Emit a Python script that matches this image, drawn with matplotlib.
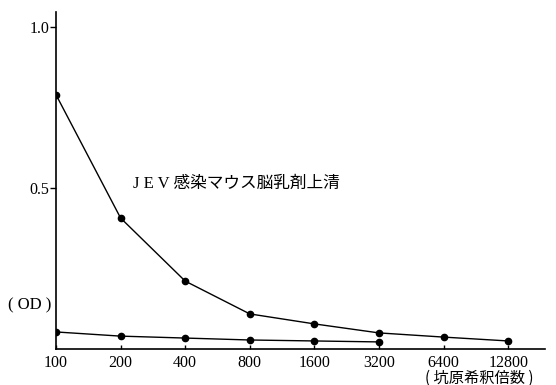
import numpy as np
import matplotlib.pyplot as plt

plt.rcParams['font.family'] = ['Liberation Serif', 'Noto Sans CJK JP']

dilution = [100, 200, 400, 800, 1600, 3200, 6400, 12800]
jev_od = [0.79, 0.407, 0.211, 0.109, 0.078, 0.050, 0.037, 0.025]
ctrl_dilution = [100, 200, 400, 800, 1600, 3200]
ctrl_od = [0.053, 0.040, 0.034, 0.028, 0.025, 0.022]

fig = plt.figure(figsize=(5.56, 3.85), dpi=100)
ax = fig.add_axes([0.1007, 0.0935, 0.8795, 0.8753])

ax.plot(dilution, jev_od, color='black', lw=1.0, marker='o', ms=4.5,
        mfc='black', mec='black')
ax.plot(ctrl_dilution, ctrl_od, color='black', lw=1.0, marker='o', ms=4.5,
        mfc='black', mec='black')

ax.set_xscale('log', base=2)
ax.set_xlim(100, 100 * 2 ** 7.57)
ax.set_ylim(0, 1.047)
ax.set_xticks(dilution)
ax.set_xticklabels([str(d) for d in dilution])
ax.minorticks_off()
ax.set_yticks([0.5, 1.0])
ax.set_yticklabels(['0.5', '1.0'])

for side in ['top', 'right']:
    ax.spines[side].set_visible(False)
for side in ['left', 'bottom']:
    ax.spines[side].set_linewidth(1.2)

ax.tick_params(axis='y', direction='out', length=4, width=1, labelsize=11.5, pad=1)
ax.tick_params(axis='x', direction='in', length=3, width=1, labelsize=11.5, pad=4)

fig.text(133 / 556, 1 - 184 / 385, 'J E V 感染マウス脳乳剤上清', fontsize=12,
         family=['Liberation Serif', 'Noto Sans CJK JP'], va='center')
fig.text(8 / 556, 1 - 305 / 385, '( OD )', fontsize=12, va='center')
fig.text(425 / 556, 1 - 378 / 385, '( 坑原希釈倍数 )', fontsize=11,
         family=['Noto Sans CJK JP'], va='center')

fig.savefig('out.png', dpi=100)
